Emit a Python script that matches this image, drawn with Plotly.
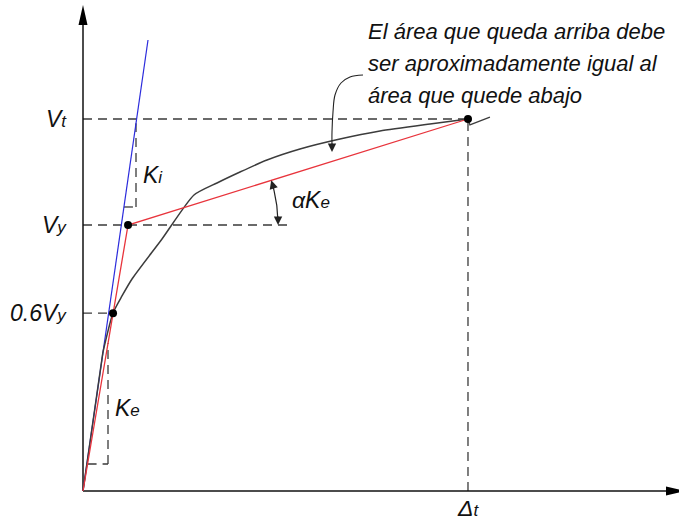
import math
import numpy as np
import plotly.graph_objects as go

# Capacity curve: roof displacement (Δ/Δt) vs base shear (V/Vt)
# elastic branch, following the initial tangent
elastic_disp = [0.0, 0.0519]
elastic_shear = [0.0, 0.3737]
# post-elastic branch
disp = [0.0519, 0.0779, 0.1013, 0.1273, 0.2052, 0.2883,
        0.3481, 0.4078, 0.4779, 0.5636, 0.6675, 0.7714, 0.9013, 1.0]
shear = [0.3737, 0.4785, 0.5242, 0.5699, 0.6774, 0.7957,
         0.8280, 0.8575, 0.8898, 0.9194, 0.9462, 0.9677, 0.9866, 1.0]
# break mark after the target point
tail_disp = [1.0, 1.005, 1.057]
tail_shear = [1.0, 0.984, 1.005]

# Characteristic values
delta_t = 1.0
v_t = 1.0
delta_y = 0.117
v_y = 0.715
delta_06 = 0.078
v_06 = 0.478
k_i = 7.18          # initial stiffness (blue tangent)
ki_top = 1.2124     # ordinate where the tangent is stopped


def sub(s):
    return f'<span style="font-size:17px">{s}</span>'


level_labels = ["V" + sub("t"), "V" + sub("y"), "0.6V" + sub("y")]
level_values = [v_t, v_y, v_06]
note_lines = ["El área que queda arriba debe",
              "ser aproximadamente igual al",
              "área que quede abajo"]

W, H = 679, 520
x_range = [-0.2156, 1.5481]
y_range = [-0.0780, 1.3199]
sx = W / (x_range[1] - x_range[0])   # px per unit
sy = H / (y_range[1] - y_range[0])


def dx(px):
    return px / sx


def dy(px):
    return px / sy


def from_px(xp, yp):
    """Page pixel -> data coordinates."""
    return x_range[0] + xp / sx, y_range[1] - yp / sy


FONT = "Liberation Sans, Arial, sans-serif"
DASH = "9px,6px"
DCOL = "#3a3a3a"
CURVE = "#3c3c3c"

fig = go.Figure()

# initial stiffness tangent
fig.add_trace(go.Scatter(x=[0, ki_top / k_i], y=[0, ki_top], mode="lines",
                         line=dict(color="#2b2bdc", width=1.2), hoverinfo="skip"))
# capacity curve
fig.add_trace(go.Scatter(x=elastic_disp, y=elastic_shear, mode="lines",
                         line=dict(color=CURVE, width=1.5), hoverinfo="skip"))
fig.add_trace(go.Scatter(x=disp, y=shear, mode="lines",
                         line=dict(color=CURVE, width=1.5, shape="spline", smoothing=0.6),
                         hoverinfo="skip"))
fig.add_trace(go.Scatter(x=tail_disp, y=tail_shear, mode="lines",
                         line=dict(color=CURVE, width=1.3), hoverinfo="skip"))
# bilinear idealisation
fig.add_trace(go.Scatter(x=[0, delta_y, delta_t], y=[0, v_y, v_t], mode="lines",
                         line=dict(color="#e8343c", width=1.3), hoverinfo="skip"))

shapes = []


def seg(x0, y0, x1, y1, dash=DASH, color=DCOL, width=1.3):
    shapes.append(dict(type="line", xref="x", yref="y", x0=x0, y0=y0, x1=x1, y1=y1,
                       line=dict(color=color, width=width, dash=dash), layer="below"))


# reference levels
seg(0, v_t, delta_t, v_t)
seg(delta_t, 0, delta_t, v_t)
seg(0, v_y, 0.538, v_y)
seg(0, v_06, delta_06, v_06)

# slope bracket for Ki
kb_x = dx(53)
kb_y = dy(284)
seg(kb_y / k_i, kb_y, kb_x, kb_y)
seg(kb_x, kb_y, kb_x, k_i * kb_x)
# slope bracket for Ke
k_e = v_y / delta_y
eb_x = dx(25)
eb_y = dy(27)
seg(eb_y / k_e, eb_y, eb_x, eb_y)
seg(eb_x, eb_y, eb_x, k_e * eb_x)

# axes
seg(0, 0, x_range[1] + dx(10), 0, dash="solid", color="#111", width=1.5)
seg(0, 0, 0, y_range[1] - dy(20), dash="solid", color="#111", width=1.5)
ytip = y_range[1] - dy(5)
shapes.append(dict(type="path", xref="x", yref="y",
                   path=f"M 0,{ytip} L {dx(4.5)},{ytip - dy(20)} L {-dx(4.5)},{ytip - dy(20)} Z",
                   fillcolor="#000", line=dict(width=0)))
xtip = x_range[1] + dx(7)
shapes.append(dict(type="path", xref="x", yref="y",
                   path=f"M {xtip},0 L {xtip - dx(20)},{dy(4.5)} L {xtip - dx(20)},{-dy(4.5)} Z",
                   fillcolor="#000", line=dict(width=0)))

# angle arc (alpha Ke) centred on the yield point
r = 150
theta_red = math.atan2((v_t - v_y) * sy, (delta_t - delta_y) * sx)
th = np.linspace(0.02, theta_red - 0.02, 40)
fig.add_trace(go.Scatter(x=delta_y + dx(r * np.cos(th)), y=v_y + dy(r * np.sin(th)),
                         mode="lines", line=dict(color="#222", width=1.2), hoverinfo="skip"))

# leader for the note
lead_px = [(363, 75), (350, 77), (341, 83), (335, 95), (333, 112), (332, 132), (332, 146)]
lx, ly = zip(*[from_px(a, b) for a, b in lead_px])
fig.add_trace(go.Scatter(x=lx, y=ly, mode="lines",
                         line=dict(color="#222", width=1.1, shape="spline"), hoverinfo="skip"))

# characteristic points
fig.add_trace(go.Scatter(x=[delta_06, delta_y, delta_t], y=[v_06, v_y, v_t], mode="markers",
                         marker=dict(color="#000", size=8), hoverinfo="skip"))

ann = []
arrow_common = dict(showarrow=True, arrowhead=2, arrowsize=1.4, arrowwidth=1.2,
                    arrowcolor="#222", axref="pixel", ayref="pixel", text="", standoff=0)
# arc arrowheads
ann.append(dict(x=delta_y + dx(r), y=v_y, ax=0, ay=-10, **arrow_common))
ann.append(dict(x=delta_y + dx(r * math.cos(theta_red)), y=v_y + dy(r * math.sin(theta_red)),
                ax=10 * math.sin(theta_red), ay=10 * math.cos(theta_red), **arrow_common))
tipx, tipy = from_px(332, 152)
ann.append(dict(x=tipx, y=tipy, ax=0, ay=-10, **arrow_common))

lab_font = dict(family=FONT, size=23, color="#111")
for lbl, val in zip(level_labels, level_values):
    ann.append(dict(x=-dx(14), y=val, text=f"<i>{lbl}</i>", showarrow=False,
                    xanchor="right", yanchor="middle", font=lab_font))

ann.append(dict(x=kb_x + dx(5), y=0.85, text="<i>K" + sub("i") + "</i>", showarrow=False,
                xanchor="left", yanchor="middle", font=lab_font))
ann.append(dict(x=eb_x + dx(5), y=dy(83), text="<i>K" + sub("e") + "</i>", showarrow=False,
                xanchor="left", yanchor="middle", font=lab_font))
ann.append(dict(x=delta_y + dx(r + 12), y=v_y + dy(25), text="<i>αK" + sub("e") + "</i>",
                showarrow=False, xanchor="left", yanchor="middle", font=lab_font))
ann.append(dict(x=delta_t, y=-dy(2), text="<i>Δ" + sub("t") + "</i>", showarrow=False,
                xanchor="center", yanchor="top", font=lab_font))

for i, line in enumerate(note_lines):
    nx, ny = from_px(366, 31 + 32 * i)
    ann.append(dict(x=nx, y=ny, text=f"<i>{line}</i>", showarrow=False,
                    xanchor="left", yanchor="middle", align="left",
                    font=dict(family=FONT, size=22, color="#111")))

fig.update_layout(
    width=W, height=H, autosize=False,
    margin=dict(l=0, r=0, t=0, b=0, pad=0),
    paper_bgcolor="white", plot_bgcolor="white",
    showlegend=False,
    xaxis=dict(range=x_range, visible=False, fixedrange=True),
    yaxis=dict(range=y_range, visible=False, fixedrange=True),
    shapes=shapes, annotations=ann,
)

fig.write_html("out.html")
